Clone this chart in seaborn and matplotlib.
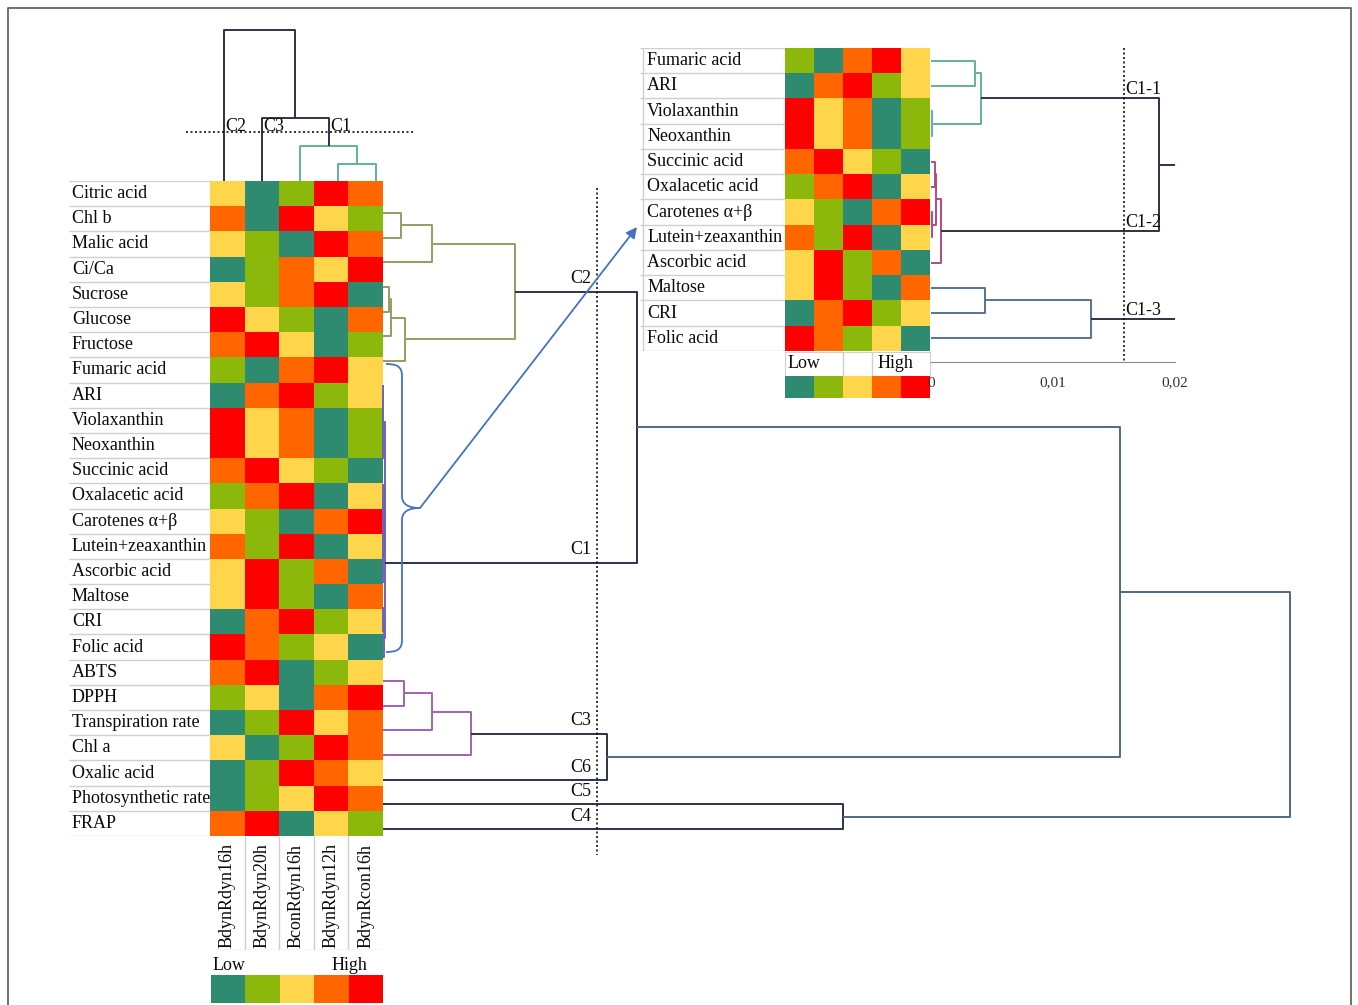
import numpy as np
import pandas as pd
import matplotlib
matplotlib.use("Agg")
import matplotlib.pyplot as plt
import seaborn as sns
from matplotlib.colors import ListedColormap
from matplotlib.path import Path
from matplotlib.patches import PathPatch, FancyArrowPatch

sns.set_style("white")
plt.rcParams['font.family'] = ['Liberation Serif', 'DejaVu Serif']

# ---------------- data ----------------
rows = ["Citric acid", "Chl b", "Malic acid", "Ci/Ca", "Sucrose", "Glucose", "Fructose",
        "Fumaric acid", "ARI", "Violaxanthin", "Neoxanthin", "Succinic acid", "Oxalacetic acid",
        "Carotenes α+β", "Lutein+zeaxanthin", "Ascorbic acid", "Maltose", "CRI", "Folic acid",
        "ABTS", "DPPH", "Transpiration rate", "Chl a", "Oxalic acid", "Photosynthetic rate", "FRAP"]
cols = ["BdynRdyn16h", "BdynRdyn20h", "BconRdyn16h", "BdynRdyn12h", "BdynRcon16h"]
# level 0 = low (dark green) ... 4 = high (red)
levels = [
    [2, 0, 1, 4, 3],  # Citric acid
    [3, 0, 4, 2, 1],  # Chl b
    [2, 1, 0, 4, 3],  # Malic acid
    [0, 1, 3, 2, 4],  # Ci/Ca
    [2, 1, 3, 4, 0],  # Sucrose
    [4, 2, 1, 0, 3],  # Glucose
    [3, 4, 2, 0, 1],  # Fructose
    [1, 0, 3, 4, 2],  # Fumaric acid
    [0, 3, 4, 1, 2],  # ARI
    [4, 2, 3, 0, 1],  # Violaxanthin
    [4, 2, 3, 0, 1],  # Neoxanthin
    [3, 4, 2, 1, 0],  # Succinic acid
    [1, 3, 4, 0, 2],  # Oxalacetic acid
    [2, 1, 0, 3, 4],  # Carotenes
    [3, 1, 4, 0, 2],  # Lutein+zeaxanthin
    [2, 4, 1, 3, 0],  # Ascorbic acid
    [2, 4, 1, 0, 3],  # Maltose
    [0, 3, 4, 1, 2],  # CRI
    [4, 3, 1, 2, 0],  # Folic acid
    [3, 4, 0, 1, 2],  # ABTS
    [1, 2, 0, 3, 4],  # DPPH
    [0, 1, 4, 2, 3],  # Transpiration rate
    [2, 0, 1, 4, 3],  # Chl a
    [0, 1, 4, 3, 2],  # Oxalic acid
    [0, 1, 2, 4, 3],  # Photosynthetic rate
    [3, 4, 0, 2, 1],  # FRAP
]
inset_rows = rows[7:19]
scale_levels = [0, 1, 2, 3, 4]

# row dendrogram (main): merges (child a, child b) -> node n+k, with heights
row_merges = [(0, 1), (26, 2), (3, 4), (28, 5), (29, 6), (27, 30),
              (7, 8), (9, 10), (32, 33), (11, 12), (13, 14), (35, 36), (37, 15),
              (34, 38), (16, 17), (40, 18), (39, 41),
              (31, 42),
              (19, 20), (44, 21), (45, 22), (46, 23),
              (24, 25), (43, 47), (49, 48)]
row_heights = [0.0193, 0.0531, 0.0065, 0.0087, 0.024, 0.144,
               0.0004, 0.0000, 0.0005, 0.0000, 0.0000, 0.0001, 0.0002,
               0.0022, 0.0005, 0.0015, 0.0025,
               0.2767,
               0.0229, 0.0531, 0.096, 0.244,
               0.5016, 0.8037, 0.989]
row_cut = 0.2334
row_cluster_labels = {"C2": 31, "C1": 42, "C3": 46, "C6": 23, "C5": 24, "C4": 25}

# column dendrogram
col_merges = [(3, 4), (2, 5), (1, 6), (0, 7)]
col_heights = [0.113, 0.232, 0.417, 1.0]
col_cut = 0.325
col_cluster_labels = {"C2": 0, "C3": 1, "C1": 6}

# inset dendrogram (cluster C1)
in_merges = [(0, 1), (2, 3), (12, 13), (4, 5), (6, 7), (15, 16), (17, 8),
             (14, 18), (9, 10), (20, 11), (19, 21)]
in_heights = [0.0036, 0.0001, 0.0041, 0.0003, 0.0001, 0.0004, 0.0008,
              0.0187, 0.0044, 0.0131, 0.0215]
in_cut = 0.0158
in_cluster_labels = {"C1-1": 14, "C1-2": 18, "C1-3": 21}
in_ticks = [0, 0.01, 0.02]
in_ticklabels = ["0", "0,01", "0,02"]

# ---------------- style ----------------
HEAT = ["#2e8b6f", "#8cb80c", "#ffd54b", "#ff6600", "#ff0000"]
OLIVE = "#949d62"
NAVY = "#2b3445"
STEEL = "#4e6a84"
PURPLE = "#a063ad"
TEAL = "#62b1a0"
MAG = "#b54a80"
SLATE = "#587391"
C1COL = "#6a64b8"
BLUE = "#4472c4"
GRID = "#cfcfcf"
TXT = "#0a0a0a"
FS = 13
LW = 1.4

row_colors = [OLIVE] * 6 + [C1COL] * 11 + [NAVY] + [PURPLE] * 3 + [NAVY] + [NAVY] + [STEEL] * 2
col_colors = [TEAL, TEAL, NAVY, NAVY]
in_colors = [TEAL, TEAL, TEAL, MAG, MAG, MAG, MAG, NAVY, SLATE, SLATE, NAVY]

cmap = ListedColormap(HEAT)
W, H = 1358, 1005
fig = plt.figure(figsize=(W / 100, H / 100), dpi=100)


def px_axes(x0, y0, x1, y1):
    return fig.add_axes([x0 / W, 1 - y1 / H, (x1 - x0) / W, (y1 - y0) / H])


def dendro(n, merges, heights):
    pos = {i: float(i) for i in range(n)}
    hgt = {i: 0.0 for i in range(n)}
    segs = []
    for k, ((a, b), h) in enumerate(zip(merges, heights)):
        segs.append(([hgt[a], h, h, hgt[b]], [pos[a], pos[a], pos[b], pos[b]]))
        pos[n + k] = (pos[a] + pos[b]) / 2
        hgt[n + k] = h
    return segs, pos


def heat(ax, df):
    sns.heatmap(df, ax=ax, cmap=cmap, vmin=-0.5, vmax=4.5, cbar=False,
                xticklabels=False, yticklabels=False, linewidths=0)
    ax.set_xlabel("")
    ax.set_ylabel("")


df = pd.DataFrame(levels, index=rows, columns=cols)

# ---------- main heatmap ----------
ax_hm = px_axes(210, 181, 383, 836)
heat(ax_hm, df)

# row labels table
ax_lab = px_axes(69, 181, 210, 836)
ax_lab.set_xlim(0, 1)
ax_lab.set_ylim(len(rows), 0)
ax_lab.axis("off")
ax_lab.hlines(np.arange(len(rows) + 1), 0, 1, color=GRID, lw=1)
for i, r in enumerate(rows):
    ax_lab.text(0.02, i + 0.5, r, va="center", ha="left", fontsize=FS, color=TXT)

# column labels
ax_col = px_axes(210, 836, 383, 950)
ax_col.set_xlim(0, len(cols))
ax_col.set_ylim(0, 1)
ax_col.axis("off")
ax_col.vlines(np.arange(1, len(cols)), 0, 1, color=GRID, lw=1)
ax_col.hlines(0, 0.15, 4.9, color=GRID, lw=1)
for j, c in enumerate(cols):
    ax_col.text(j + 0.5, 0.02, c, rotation=90, ha="center", va="bottom", fontsize=FS, color=TXT)

# main colour scale
ax_cb = px_axes(211, 975, 383, 1003)
heat(ax_cb, pd.DataFrame([scale_levels]))

# ---------- row dendrogram ----------
ax_rd = px_axes(383, 200.68, 1300, 841.32)
segs, rpos = dendro(len(rows), row_merges, row_heights)
for (xs, ys), c in zip(segs, row_colors):
    ax_rd.plot(xs, ys, color=c, lw=LW, solid_capstyle="butt", clip_on=False)
ax_rd.set_xlim(0, 1)
ax_rd.set_ylim(len(rows) - 0.5, -0.5)
ax_rd.axis("off")
ax_rd.plot([row_cut, row_cut], [-1, len(rows) + 0.05], ls=(0, (1.2, 1.5)), color="#111", lw=1.2, clip_on=False)
for lab, node in row_cluster_labels.items():
    ax_rd.annotate(lab, (row_cut, rpos[node]), xytext=(-4, 3), textcoords="offset points",
                   ha="right", va="bottom", fontsize=FS, color=TXT)

# ---------- column dendrogram ----------
ax_cd = px_axes(205, 30, 395, 181)
segs, cpos = dendro(len(cols), col_merges, col_heights)
for (ys, xs), c in zip(segs, col_colors):
    ax_cd.plot(xs, ys, color=c, lw=LW, solid_capstyle="butt", clip_on=False)
ax_cd.set_xlim(-0.5, len(cols) - 0.5)
ax_cd.set_ylim(0, 1)
ax_cd.axis("off")
ax_cd.plot([-1, len(cols)], [col_cut, col_cut], ls=(0, (1.2, 1.5)), color="#111", lw=1.2, clip_on=False)
for lab, node in col_cluster_labels.items():
    ax_cd.annotate(lab, (cpos[node], col_cut), xytext=(1, -2), textcoords="offset points",
                   ha="left", va="bottom", fontsize=FS, color=TXT)

# ---------- inset ----------
ax_ih = px_axes(785, 48, 930, 351)
heat(ax_ih, df.loc[inset_rows])

ax_il = px_axes(640, 48, 785, 351)
ax_il.set_xlim(0, 1)
ax_il.set_ylim(len(inset_rows), 0)
ax_il.axis("off")
ax_il.hlines(np.arange(len(inset_rows) + 1), 0, 1, color=GRID, lw=1)
ax_il.vlines(0.02, 0, len(inset_rows), color=GRID, lw=1)
for i, r in enumerate(inset_rows):
    ax_il.text(0.05, i + 0.5, r, va="center", ha="left", fontsize=FS, color=TXT)

ax_lh = px_axes(785, 352, 930, 376)
ax_lh.set_xlim(0, 5)
ax_lh.set_ylim(0, 1)
ax_lh.set_xticks([])
ax_lh.set_yticks([])
for s in ax_lh.spines.values():
    s.set_color(GRID)
ax_lh.vlines([2, 3], 0, 1, color=GRID, lw=1)
ax_lh.text(0.08, 0.5, "Low", va="center", ha="left", fontsize=FS, color=TXT)
ax_lh.text(3.2, 0.5, "High", va="center", ha="left", fontsize=FS, color=TXT)

ax_icb = px_axes(785, 376, 930, 398)
heat(ax_icb, pd.DataFrame([scale_levels]))

ax_id = px_axes(931, 48, 1175, 362)
segs, ipos = dendro(len(inset_rows), in_merges, in_heights)
for (xs, ys), c in zip(segs, in_colors):
    ax_id.plot(xs, ys, color=c, lw=LW, solid_capstyle="butt")
ax_id.set_xlim(0, 0.02)
ax_id.set_ylim(11.94, -0.5)
for s in ["top", "right", "left"]:
    ax_id.spines[s].set_visible(False)
ax_id.spines["bottom"].set_color("#888")
ax_id.set_yticks([])
ax_id.set_xticks(in_ticks)
ax_id.set_xticklabels(in_ticklabels, fontsize=11, color="#333")
ax_id.tick_params(axis="x", direction="inout", length=9, color="#888", pad=6)
ax_id.patch.set_alpha(0)
ax_id.plot([in_cut, in_cut], [-0.5, 11.94], ls=(0, (1.2, 1.5)), color="#111", lw=1.2, clip_on=False)
for lab, node in in_cluster_labels.items():
    ax_id.annotate(lab, (in_cut, ipos[node]), xytext=(1, 0), textcoords="offset points",
                   ha="left", va="bottom", fontsize=FS, color=TXT)

# ---------- overlay: frame, brace, arrow, Low/High ----------
ov = fig.add_axes([0, 0, 1, 1])
ov.set_xlim(0, W)
ov.set_ylim(H, 0)
ov.axis("off")
ov.patch.set_alpha(0)
ov.plot([8, 8, 1351, 1351], [H + 5, 8, 8, H + 5], color="#666", lw=1.3, clip_on=False)
ov.text(213, 965, "Low", va="center", ha="left", fontsize=FS, color=TXT)
ov.text(332, 965, "High", va="center", ha="left", fontsize=FS, color=TXT)

verts = [(386, 364), (396, 364), (402, 366), (402, 376),
         (402, 496),
         (402, 504), (408, 508), (420, 508),
         (408, 508), (402, 512), (402, 520),
         (402, 640),
         (402, 650), (396, 652), (386, 652)]
codes = [Path.MOVETO, Path.CURVE4, Path.CURVE4, Path.CURVE4,
         Path.LINETO,
         Path.CURVE4, Path.CURVE4, Path.CURVE4,
         Path.CURVE4, Path.CURVE4, Path.CURVE4,
         Path.LINETO,
         Path.CURVE4, Path.CURVE4, Path.CURVE4]
ov.add_patch(PathPatch(Path(verts, codes), fill=False, edgecolor=BLUE, lw=1.3))
ov.add_patch(FancyArrowPatch((420, 508), (637, 227), arrowstyle="-|>", mutation_scale=16,
                             color=BLUE, lw=1.3, shrinkA=0, shrinkB=0))

fig.savefig("out.png", dpi=100)
